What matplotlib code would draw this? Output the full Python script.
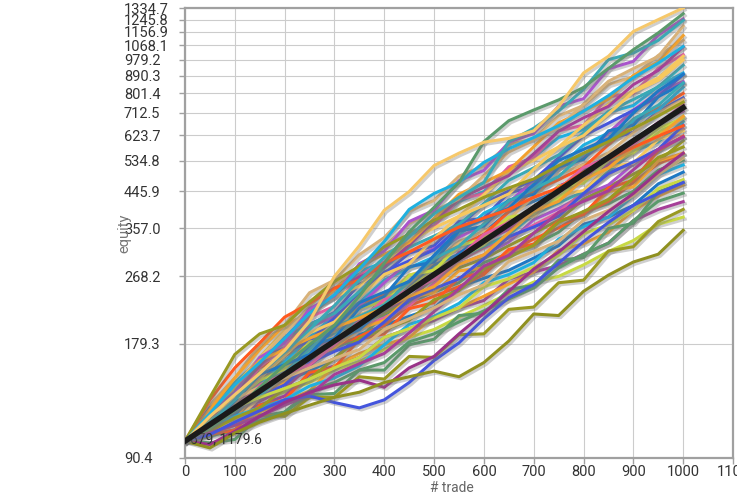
import matplotlib
matplotlib.use("Agg")
import matplotlib.pyplot as plt
import matplotlib.patheffects as pe

plt.rcParams['font.family'] = ['Roboto', 'DejaVu Sans']

# trade index of the sampled points (every 50 trades)
trades = list(range(0, 1001, 50))

# equity paths at every 50 trades
eq_yellow = [100, 116, 132, 150, 172, 205, 268, 322, 398, 445, 520, 560, 598, 612, 640, 740, 905, 1000, 1160, 1245, 1335]
eq_green = [100, 108, 120, 138, 158, 178, 200, 238, 290, 350, 405, 470, 600, 680, 725, 770, 830, 930, 1040, 1150, 1290]
eq_olive_low = [100, 96, 105, 112, 118, 124, 130, 134, 142, 147, 152, 147, 160, 182, 214, 212, 245, 270, 292, 306, 353]
eq_blue_low = [100, 104, 112, 120, 128, 131, 126, 122, 128, 142, 162, 180, 208, 236, 255, 290, 330, 370, 410, 440, 470]
eq_magenta = [100, 98, 106, 116, 126, 134, 140, 144, 138, 155, 166, 190, 215, 245, 280, 310, 350, 395, 440, 500, 560]
eq_red = [100, 128, 155, 180, 210, 228, 250, 262, 290, 310, 335, 360, 380, 400, 430, 455, 500, 540, 580, 620, 660]
eq_olive_top = [100, 130, 168, 190, 200, 230, 260, 285, 320, 345, 375, 400, 430, 455, 480, 520, 560, 600, 650, 700, 760]
eq_cyan = [100, 118, 140, 160, 185, 215, 240, 280, 330, 400, 440, 470, 530, 575, 615, 660, 720, 790, 880, 960, 1060]
eq_teal = [100, 112, 128, 150, 170, 195, 225, 262, 300, 340, 390, 430, 470, 600, 650, 720, 820, 980, 1020, 1100, 1240]

eq_paths = [
    [100, 107, 113, 128, 134, 142, 153, 161, 173, 186, 195, 210, 225, 242, 259, 268, 287, 311, 332, 366, 382],
    [100, 112, 120, 124, 131, 149, 157, 165, 186, 196, 206, 222, 232, 264, 275, 286, 306, 327, 374, 400, 419],
    [100, 105, 110, 119, 127, 135, 157, 169, 178, 186, 211, 222, 238, 256, 275, 313, 326, 349, 398, 433, 463],
    [100, 114, 129, 135, 143, 152, 164, 189, 200, 211, 222, 252, 265, 278, 299, 322, 366, 382, 410, 466, 500],
    [100, 124, 146, 178, 200, 243, 262, 305, 338, 396, 422, 488, 520, 590, 610, 700, 745, 845, 885, 1005, 1100],
    [100, 108, 124, 143, 152, 162, 175, 185, 213, 230, 244, 258, 291, 307, 323, 349, 395, 414, 446, 506, 537],
    [100, 113, 121, 128, 146, 165, 177, 187, 200, 225, 238, 252, 271, 311, 335, 358, 390, 420, 470, 526, 559],
    [100, 117, 138, 164, 183, 216, 238, 276, 292, 342, 372, 420, 445, 512, 548, 615, 645, 715, 745, 835, 905],
    [100, 116, 134, 151, 161, 172, 193, 201, 215, 233, 266, 282, 298, 322, 347, 375, 425, 458, 494, 533, 603],
    [100, 109, 117, 132, 152, 173, 186, 197, 222, 255, 271, 288, 305, 329, 376, 402, 435, 463, 525, 573, 617],
    [100, 122, 132, 162, 175, 201, 216, 256, 272, 308, 322, 372, 380, 442, 458, 515, 545, 608, 635, 720, 780],
    [100, 117, 137, 146, 155, 165, 175, 197, 209, 225, 257, 294, 318, 337, 364, 393, 445, 496, 531, 573, 647],
    [100, 107, 116, 135, 155, 178, 191, 205, 235, 250, 266, 300, 321, 344, 388, 416, 445, 501, 567, 599, 676],
    [100, 113, 123, 150, 156, 185, 193, 228, 238, 270, 282, 325, 330, 372, 385, 435, 448, 515, 528, 608, 640],
    [100, 112, 127, 146, 167, 182, 207, 221, 235, 250, 282, 300, 324, 370, 396, 429, 489, 523, 561, 633, 698],
    [100, 110, 120, 127, 137, 157, 178, 205, 220, 235, 268, 309, 331, 355, 404, 460, 489, 523, 603, 673, 720],
    [100, 111, 115, 136, 142, 165, 175, 196, 206, 236, 243, 277, 282, 310, 322, 372, 390, 445, 458, 535, 560],
    [100, 114, 122, 139, 158, 168, 182, 195, 222, 255, 287, 306, 348, 395, 420, 447, 509, 550, 591, 666, 735],
    [100, 106, 112, 130, 149, 172, 197, 213, 226, 257, 293, 330, 351, 377, 432, 492, 524, 561, 633, 713, 772],
    [100, 99, 101, 116, 119, 132, 133, 153, 153, 178, 184, 212, 215, 248, 254, 295, 300, 357, 368, 444, 470],
    [100, 116, 134, 155, 167, 178, 200, 227, 242, 260, 298, 321, 344, 395, 448, 478, 514, 589, 675, 733, 801],
    [100, 112, 131, 140, 161, 186, 213, 229, 262, 282, 301, 342, 391, 421, 452, 514, 588, 632, 675, 726, 831],
    [100, 106, 105, 117, 116, 130, 130, 147, 145, 166, 165, 189, 190, 220, 223, 258, 262, 312, 320, 372, 400],
    [100, 119, 137, 149, 171, 198, 211, 225, 258, 294, 317, 339, 364, 417, 477, 514, 553, 632, 724, 806, 860],
    [100, 108, 126, 146, 170, 182, 209, 241, 275, 294, 314, 360, 414, 447, 477, 545, 622, 670, 724, 786, 897],
    [100, 115, 127, 156, 175, 210, 224, 270, 292, 350, 362, 425, 440, 516, 545, 640, 662, 785, 800, 930, 1010],
    [100, 121, 142, 162, 186, 201, 215, 245, 282, 319, 341, 366, 414, 476, 513, 554, 632, 719, 772, 833, 948],
    [100, 117, 139, 165, 194, 221, 237, 253, 289, 331, 358, 384, 437, 501, 537, 581, 662, 752, 814, 879, 1000],
    [100, 120, 127, 144, 154, 181, 185, 222, 230, 270, 278, 322, 336, 382, 390, 460, 468, 537, 565, 650, 690],
    [100, 114, 134, 157, 185, 215, 248, 267, 284, 323, 374, 426, 457, 490, 558, 639, 692, 741, 844, 919, 1058],
    [100, 121, 146, 173, 200, 215, 248, 285, 306, 328, 379, 438, 470, 505, 582, 671, 721, 774, 892, 966, 1132],
    [100, 110, 117, 138, 148, 177, 185, 222, 238, 284, 292, 351, 362, 423, 438, 516, 540, 640, 662, 785, 850],
    [100, 116, 137, 162, 191, 224, 258, 277, 320, 368, 396, 426, 490, 564, 606, 653, 751, 861, 929, 999, 1198],
    [100, 103, 107, 113, 119, 135, 142, 153, 160, 181, 190, 204, 218, 234, 250, 282, 306, 327, 374, 420, 441],
    [100, 104, 107, 124, 128, 151, 155, 184, 190, 221, 229, 266, 274, 315, 325, 374, 388, 455, 476, 568, 620],
    [100, 110, 116, 122, 128, 139, 146, 157, 178, 201, 211, 228, 258, 271, 291, 335, 361, 382, 434, 493, 522],
    [100, 106, 115, 122, 137, 145, 164, 185, 195, 206, 233, 246, 281, 300, 323, 371, 395, 425, 482, 546, 581],
    [100, 119, 134, 165, 180, 221, 238, 289, 312, 372, 398, 475, 505, 598, 630, 742, 776, 928, 970, 1135, 1250],
    [100, 112, 121, 130, 140, 160, 171, 181, 204, 233, 249, 264, 298, 340, 360, 384, 440, 496, 531, 573, 662],
    [100, 108, 123, 140, 149, 158, 178, 205, 233, 247, 263, 300, 344, 370, 396, 451, 514, 545, 591, 666, 750],
    [100, 114, 122, 131, 150, 173, 198, 211, 226, 260, 298, 321, 367, 421, 452, 487, 558, 600, 687, 746, 853],
    [100, 118, 126, 146, 167, 191, 204, 237, 271, 289, 336, 384, 410, 439, 509, 581, 622, 709, 808, 866, 978],
    [100, 113, 122, 130, 137, 145, 155, 165, 186, 196, 209, 222, 252, 264, 283, 304, 346, 365, 398, 453, 478],
    [100, 105, 110, 116, 124, 132, 149, 159, 169, 191, 217, 249, 285, 304, 347, 393, 420, 447, 507, 573, 617],
    [100, 119, 139, 162, 173, 185, 197, 209, 222, 238, 252, 288, 305, 348, 396, 420, 479, 512, 579, 619, 698],
    [100, 110, 127, 149, 158, 168, 197, 229, 244, 260, 304, 354, 377, 403, 465, 536, 573, 610, 712, 813, 897],
    [100, 112, 129, 138, 146, 155, 164, 173, 195, 208, 222, 240, 255, 293, 311, 331, 375, 398, 434, 493, 544],
]

# average equity (black line)
mean_trades = [0, 100, 200, 300, 400, 500, 600, 700, 800, 900, 1000]
mean_equity = [100, 122, 149, 182, 222, 271, 331, 404, 494, 603, 735]

palette = ['#c8d944', '#a63f98', '#f2a12e', '#1f78c4', '#d8b27a', '#5b9a6b', '#ff5a1f',
           '#1fb0e0', '#999922', '#aa55cc', '#4455dd', '#e05fa0', '#3aa9b5', '#f6c85f']

y_ticks = [90.4, 179.3, 268.2, 357.0, 445.9, 534.8, 623.7, 712.5, 801.4,
           890.3, 979.2, 1068.1, 1156.9, 1245.8, 1334.7]

fig = plt.figure(figsize=(7.37, 4.96), dpi=100)
ax = fig.add_axes([185 / 737, 38 / 496, 548 / 737, 450 / 496])

shadow = [pe.SimpleLineShadow(offset=(1.5, -1.5), shadow_color='#777777', alpha=0.35), pe.Normal()]

for i, path in enumerate(eq_paths):
    ax.plot(trades, path, color=palette[i % len(palette)], lw=2.2, path_effects=shadow, zorder=2)

specials = [
    (eq_blue_low, '#4455dd'), (eq_magenta, '#993388'), (eq_olive_low, '#8f9020'),
    (eq_red, '#ff5a1f'), (eq_olive_top, '#999922'), (eq_cyan, '#1fb0e0'),
    (eq_teal, '#3aa9b5'), (eq_green, '#5b9a6b'), (eq_yellow, '#f6c86a'),
]
for path, col in specials:
    ax.plot(trades, path, color=col, lw=2.2, path_effects=shadow, zorder=3)

ax.text(10, 101, '679, 1179.6', fontsize=10, color='#333333', va='center', zorder=4)
ax.plot(mean_trades, mean_equity, color='#1a1a1a', lw=4, path_effects=shadow, zorder=5)

ax.set_yscale('log')
ax.set_xlim(0, 1100)
ax.set_ylim(y_ticks[0], y_ticks[-1])
ax.set_xticks(range(0, 1101, 100))
ax.set_xticklabels([str(v) for v in range(0, 1101, 100)])
ax.set_yticks(y_ticks)
ax.set_yticklabels([f'{v:.1f}' for v in y_ticks])
ax.yaxis.set_minor_locator(matplotlib.ticker.NullLocator())
for lbl in ax.get_yticklabels():
    lbl.set_horizontalalignment('left')

ax.tick_params(axis='both', colors='#a0a0a0', labelcolor='#333333', labelsize=10.5,
               length=4, width=1)
ax.tick_params(axis='y', pad=40)
ax.tick_params(axis='x', pad=1)

ax.grid(color='#cccccc', lw=0.8, zorder=0)
ax.set_axisbelow(True)
for sp in ax.spines.values():
    sp.set_color('#a0a0a0')
    sp.set_linewidth(1.6)

ax.set_xlabel('# trade', color='#666666', fontsize=10)
ax.set_ylabel('equity', color='#777777', fontsize=10.5)
ax.xaxis.set_label_coords(0.487, -0.052)
ax.yaxis.set_label_coords(-0.097, 0.5)

fig.savefig('out.png', dpi=100)
